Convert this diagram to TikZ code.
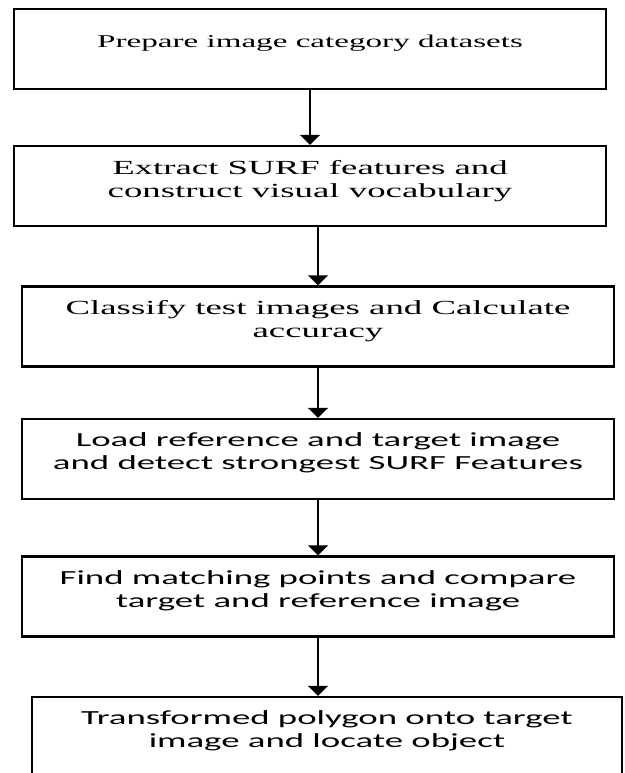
\documentclass[tikz,border=0pt]{standalone}
\usepackage{fontspec}
\usetikzlibrary{arrows.meta}
\newfontfamily\stepserif[FakeStretch=1.84]{Liberation Serif}
\newfontfamily\stepsans[FakeStretch=1.84]{Carlito}
\newcommand{\lowpad}{\rule[-15pt]{0pt}{15pt}}

\begin{document}
\begin{tikzpicture}[
  block/.style={rectangle, draw, line width=2.4pt, minimum width=592pt, minimum height=80pt, align=center, inner sep=0pt},
  serifblock/.style={block, font=\stepserif\fontsize{20pt}{23pt}\selectfont},
  sansblock/.style={block, font=\stepsans\fontsize{20pt}{23pt}\selectfont},
  flow/.style={-{Triangle[width=20pt,length=10pt]}, line width=2pt},
  node distance=137pt
]
\useasboundingbox (0,0) rectangle (624pt,-773pt);

\node[serifblock, font=\stepserif\fontsize{18pt}{21pt}\selectfont] (prep) at (310pt,-49pt) {Prepare image category datasets\lowpad};
\node[serifblock, below of=prep] (extract) {Extract SURF features and\\construct visual vocabulary\lowpad};
\node[serifblock, below of=extract, node distance=140.5pt, xshift=8pt] (classify) {Classify test images and Calculate\\accuracy\lowpad};
\node[sansblock, below of=classify, node distance=132.5pt] (load) {Load reference and target image\\and detect strongest SURF Features\lowpad};
\node[sansblock, below of=load, node distance=137.5pt] (match) {Find matching points and compare\\target and reference image\lowpad};
\node[sansblock, below of=match, node distance=140.5pt, xshift=9pt, minimum width=590pt] (locate) {Transformed polygon onto target\\image and locate object\lowpad};

\draw[flow] (prep.south -| extract) -- (extract.north);
\draw[flow] (extract.south -| classify) -- (classify.north);
\draw[flow] (classify.south -| load) -- (load.north);
\draw[flow] (load.south -| match) -- (match.north);
\draw[flow] (match.south) -- (match.south |- locate.north);
\end{tikzpicture}
\end{document}
